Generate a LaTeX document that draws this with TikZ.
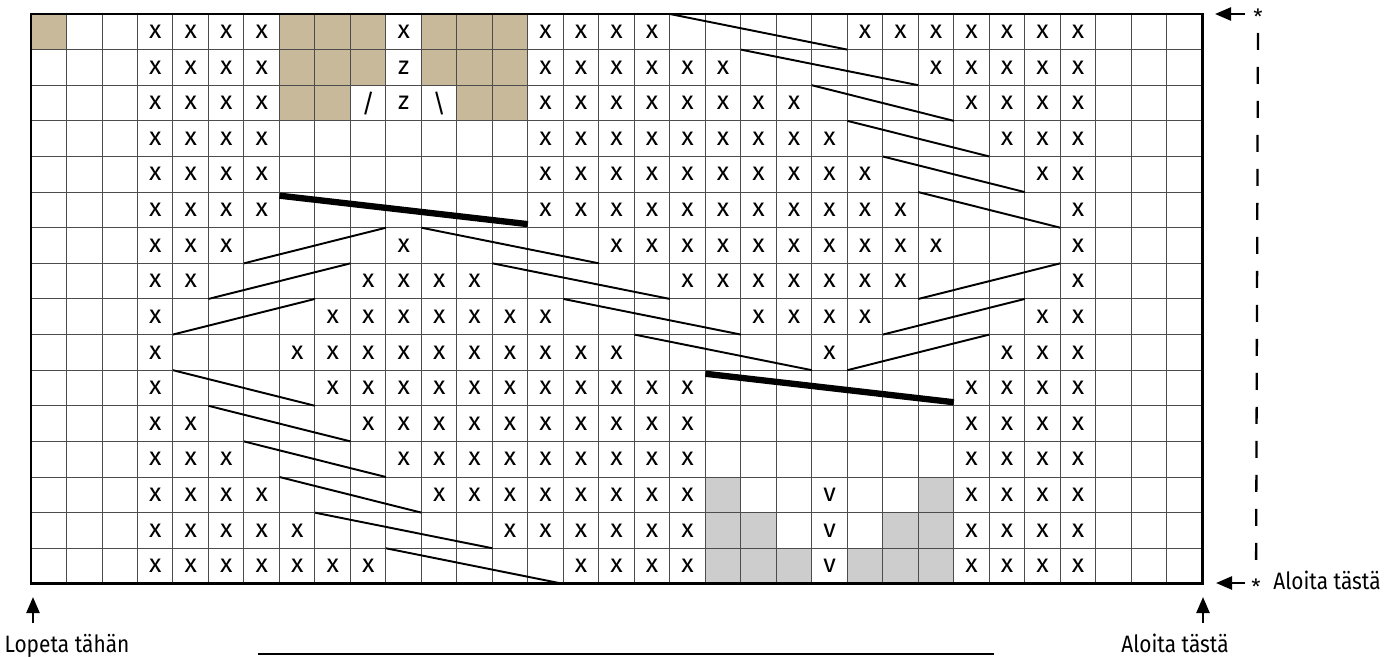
\documentclass[tikz,border=0pt]{standalone}
\usepackage{fontspec}
\setmainfont{Fira Sans}
\usepackage{tikz}
\usetikzlibrary{arrows.meta}
\usepackage{xcolor}
\definecolor{ktan}{RGB}{200,185,155}
\definecolor{kgray}{RGB}{205,205,205}

\begin{document}
\begin{tikzpicture}[x=0.02cm,y=-0.02cm,
  sym/.style={font=\fontsize{14.5}{14.5}\selectfont,inner sep=0pt},
  gridline/.style={black!70,line width=0.55pt},
  cable/.style={line width=1.1pt},
  bigcable/.style={line width=3.6pt},
  arr/.style={-{Triangle[length=0.32cm,width=0.26cm]},line width=1.4pt},
  lbl/.style={font=\fontsize{13.5}{15}\selectfont,inner sep=0pt},
  star/.style={font=\fontsize{12}{12}\selectfont,inner sep=0pt},
  dashline/.style={line width=1.3pt,dash pattern=on 0.34cm off 0.34cm}
]
\useasboundingbox (0,0) rectangle (1396,656);

% ── Kaavio ──────────────────────────────────────────────
\begin{scope}[shift={(31,14)},x=0.71cm,y=-0.7125cm]
  \foreach \c/\r in {1/1,8/1,9/1,10/1,12/1,13/1,14/1,8/2,9/2,10/2,12/2,13/2,14/2,
                     8/3,9/3,13/3,14/3}
    \fill[ktan] (\c-1,\r-1) rectangle (\c,\r);
  \foreach \c/\r in {20/14,26/14,20/15,21/15,25/15,26/15,
                     20/16,21/16,22/16,24/16,25/16,26/16}
    \fill[kgray] (\c-1,\r-1) rectangle (\c,\r);
  \foreach \i in {1,...,32} \draw[gridline] (\i,0) -- (\i,16);
  \foreach \j in {1,...,15} \draw[gridline] (0,\j) -- (33,\j);
  \draw[line width=1.6pt] (0,0) rectangle (33,16);

  % silmukat: rivi/alku/loppu
  \foreach \r/\a/\b in {1/4/7,1/11/11,1/15/18,1/24/30,
                        2/4/7,2/15/20,2/26/30,
                        3/4/7,3/15/22,3/27/30,
                        4/4/7,4/15/23,4/28/30,
                        5/4/7,5/15/24,5/29/30,
                        6/4/7,6/15/25,6/30/30,
                        7/4/6,7/11/11,7/17/26,7/30/30,
                        8/4/5,8/10/13,8/19/25,8/30/30,
                        9/4/4,9/9/15,9/21/24,9/29/30,
                        10/4/4,10/8/17,10/23/23,10/28/30,
                        11/4/4,11/9/19,11/27/30,
                        12/4/5,12/10/19,12/27/30,
                        13/4/6,13/11/19,13/27/30,
                        14/4/7,14/12/19,14/27/30,
                        15/4/8,15/14/19,15/27/30,
                        16/4/10,16/16/19,16/27/30}
    \foreach \c in {\a,...,\b}
      \node[sym] (x-\r-\c) at (\c-0.5,\r-0.5) {x};
  \node[sym] (z1) at (10.5,1.5) {z};
  \node[sym] (z2) at (10.5,2.5) {z};
  \node[sym] (sl) at (9.5,2.5) {/};
  \node[sym] (bs) at (11.5,2.5) {\textbackslash};
  \foreach \r in {14,15,16}
    \node[sym] (v-\r) at (22.5,\r-0.5) {v};

  % palmikot
  \draw[cable] (18,0) -- (23,1) (20,1) -- (25,2) (22,2) -- (26,3)
               (23,3) -- (27,4) (24,4) -- (28,5) (25,5) -- (29,6);
  \draw[cable] (6,7) -- (10,6) (5,8) -- (9,7) (4,9) -- (8,8);
  \draw[cable] (11,6) -- (16,7) (13,7) -- (18,8) (15,8) -- (20,9) (17,9) -- (22,10);
  \draw[cable] (23,10) -- (27,9) (24,9) -- (28,8) (25,8) -- (29,7);
  \draw[cable] (4,10) -- (8,11) (5,11) -- (9,12) (6,12) -- (10,13)
               (7,13) -- (11,14) (8,14) -- (13,15) (10,15) -- (15,16);
  \draw[bigcable] (7,5.1) -- (14,5.9);
  \draw[bigcable] (19,10.1) -- (26,10.9);
\end{scope}

% ── Merkinnät ───────────────────────────────────────────
\node[star] (astTop) at (1258,17) {*};
\node[star] (astBot) at (1256,587) {*};
\coordinate (topTail) at (1245,14);
\coordinate (topTip)  at (1215,14);
\coordinate (botTail) at (1245,583);
\coordinate (botTip)  at (1216,583);
\draw[arr] (topTail) -- (topTip);
\draw[arr] (botTail) -- (botTip);
\draw[dashline,shorten <=0.32cm,shorten >=0.38cm] (astTop.center) -- (astBot.center);
\node[lbl,anchor=base west] (startSide) at (1273,589) {\scalebox{0.88}[1]{Aloita tästä}};

\node[lbl,anchor=base] (stopLbl) at (67,652) {\scalebox{0.88}[1]{Lopeta tähän}};
\node[lbl,anchor=base] (startLbl) at (1175,652) {\scalebox{0.88}[1]{Aloita tästä}};
\coordinate (stopTail)  at (33,623);
\coordinate (stopTip)   at (33,597);
\coordinate (startTail) at (1203,623);
\coordinate (startTip)  at (1203,597);
\draw[arr] (stopTail) -- (stopTip);
\draw[arr] (startTail) -- (startTip);

\coordinate (rulerL) at (258,654);
\coordinate (rulerR) at (994,654);
\draw[line width=1.2pt] (rulerL) -- (rulerR);

\end{tikzpicture}
\end{document}
